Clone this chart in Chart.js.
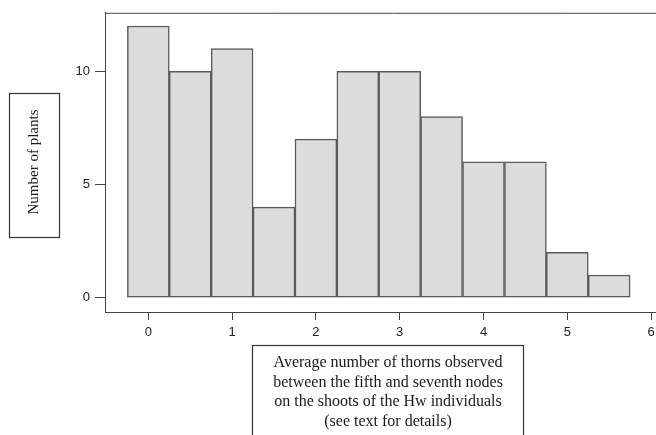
<!DOCTYPE html>
<html>
<head>
<meta charset="utf-8">
<script src="https://cdn.jsdelivr.net/npm/chart.js@4/dist/chart.umd.min.js"></script>
<style>
  html, body { margin: 0; padding: 0; background: #fff; overflow: hidden; }
  #wrap { width: 656px; height: 435px; overflow: hidden; }
</style>
</head>
<body>
<div id="wrap"><canvas id="histChart" width="700" height="435"></canvas></div>
<script>
// histogram bins (centre of each 0.5-wide bin) and counts
var binCenters = [0, 0.5, 1, 1.5, 2, 2.5, 3, 3.5, 4, 4.5, 5, 5.5];
var plantCounts = [12, 10, 11, 4, 7, 10, 10, 8, 6, 6, 2, 1];
var xTickValues = [0, 1, 2, 3, 4, 5, 6];
var yTickValues = [0, 5, 10];

var yTitle = 'Number of plants';
var xTitleLines = [
    'Average number of thorns observed',
    'between the fifth and seventh nodes',
    'on the shoots of the Hw individuals',
    '(see text for details)'
];

var points = binCenters.map(function(x, i) {
    return { x: x, y: plantCounts[i] };
});

// boxed labels + top frame line
var boxesPlugin = {
    id: 'boxes',
    afterDraw: function(chart) {
        var ctx = chart.ctx;
        var a = chart.chartArea;
        ctx.save();
        ctx.strokeStyle = '#444';
        ctx.lineWidth = 1;
        ctx.beginPath();
        ctx.moveTo(a.left, a.top + 0.5);
        ctx.lineTo(a.right, a.top + 0.5);
        ctx.stroke();

        ctx.strokeStyle = '#333';
        ctx.lineWidth = 1.2;
        ctx.strokeRect(9.5, 93.5, 50, 144);
        ctx.strokeRect(252.5, 345.5, 271, 120);

        ctx.fillStyle = '#1a1a1a';
        ctx.textAlign = 'center';
        ctx.textBaseline = 'middle';
        ctx.font = '15px "Liberation Serif"';
        ctx.save();
        ctx.translate(34, 162);
        ctx.rotate(-Math.PI / 2);
        ctx.fillText(yTitle, 0, 0);
        ctx.restore();

        ctx.font = '16px "Liberation Serif"';
        xTitleLines.forEach(function(line, i) {
            ctx.fillText(line, 388, 363 + i * 19.5);
        });
        ctx.restore();
    }
};

var ctx = document.getElementById('histChart').getContext('2d');

var myChart = new Chart(ctx, {
    type: 'bar',
    data: {
        datasets: [{
            data: points,
            backgroundColor: '#dcdcdc',
            borderColor: '#5a5a5a',
            borderWidth: 1.5,
            borderSkipped: false,
            categoryPercentage: 1,
            barPercentage: 1
        }]
    },
    options: {
        responsive: false,
        animation: false,
        devicePixelRatio: 1,
        layout: { padding: { top: 12, right: 20, left: 0, bottom: 0 } },
        plugins: {
            legend: { display: false },
            tooltip: { enabled: false }
        },
        scales: {
            x: {
                type: 'linear',
                offset: false,
                min: -0.517,
                max: 6.345,
                afterFit: function(scale) { scale.height = 123; },
                afterBuildTicks: function(scale) {
                    scale.ticks = xTickValues.map(function(v) { return { value: v }; });
                },
                grid: { offset: false, drawOnChartArea: false, tickLength: 8, color: '#444', lineWidth: 1 },
                border: { display: true, color: '#444', width: 1 },
                ticks: {
                    color: '#222',
                    padding: 5,
                    maxRotation: 0,
                    font: { family: '"Liberation Sans"', size: 13 }
                }
            },
            y: {
                min: -0.634,
                max: 12.582,
                afterFit: function(scale) { scale.width = 105; },
                afterBuildTicks: function(scale) {
                    scale.ticks = yTickValues.map(function(v) { return { value: v }; });
                },
                grid: { drawOnChartArea: false, tickLength: 10, color: '#444', lineWidth: 1 },
                border: { display: true, color: '#444', width: 1 },
                ticks: {
                    color: '#222',
                    padding: 5,
                    font: { family: '"Liberation Sans"', size: 13 }
                }
            }
        }
    },
    plugins: [boxesPlugin]
});
</script>
</body>
</html>
